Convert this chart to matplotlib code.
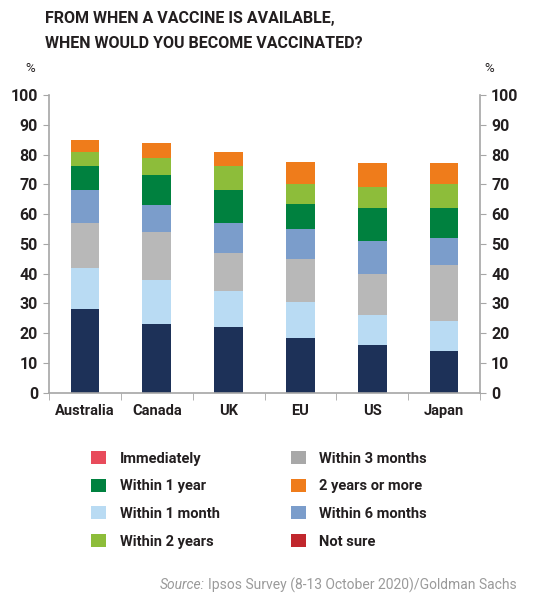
import matplotlib
matplotlib.use("Agg")
import matplotlib.pyplot as plt
from matplotlib.patches import Patch
import numpy as np

countries = ["Australia", "Canada", "UK", "EU", "US", "Japan"]
immediately = [28, 23, 22, 18.5, 16, 14]
within_1_month = [14, 15, 12, 12, 10, 10]
within_3_months = [15, 16, 13, 14.5, 14, 19]
within_6_months = [11, 9, 10, 10, 11, 9]
within_1_year = [8, 10, 11, 8.5, 11, 10]
within_2_years = [5, 6, 8, 6.5, 7, 8]
two_years_or_more = [4, 5, 5, 7.5, 8, 7]

y_ticks = [0, 10, 20, 30, 40, 50, 60, 70, 80, 90, 100]

series = [immediately, within_1_month, within_3_months, within_6_months,
          within_1_year, within_2_years, two_years_or_more]
bar_colors = ["#1d3158", "#b9dbf3", "#b8b8b8", "#7b9dcb", "#00813f", "#8dbd3a", "#ef7c1b"]

legend_labels = ["Immediately", "Within 1 year", "Within 1 month", "Within 2 years",
                 "Within 3 months", "2 years or more", "Within 6 months", "Not sure"]
legend_colors = ["#e84b5b", "#00813f", "#b9dbf3", "#8dbd3a",
                 "#a8a8a8", "#ef7c1b", "#7b9dcb", "#c1272d"]

cond = ["Roboto", "DejaVu Sans"]
dark = "#231f20"
axc = "#a6a6a6"

fig = plt.figure(figsize=(5.47, 6.0), dpi=100)
ax = fig.add_axes([0.0896, 0.3455, 0.7879, 0.4962])

x = np.arange(len(countries))
bottom = np.zeros(len(countries))
for vals, c in zip(series, bar_colors):
    ax.bar(x, vals, 0.4, bottom=bottom, color=c, edgecolor="none")
    bottom += np.array(vals)

ax.set_xlim(-0.5, len(countries) - 0.5)
ax.set_ylim(0, 100)
ax.set_yticks(y_ticks)
ax.set_yticklabels([str(t) for t in y_ticks], fontsize=11.5, fontweight="bold",
                   family=cond, color=dark)
ax.set_xticks(x)
ax.set_xticklabels(countries, fontsize=10.5, fontweight="bold", family=cond, color=dark)
ax.set_xticks(np.arange(len(countries) + 1) - 0.5, minor=True)
ax.tick_params(axis="x", which="major", length=0, pad=8)
ax.tick_params(axis="x", which="minor", length=5, color=axc, direction="out")
ax.tick_params(axis="y", which="major", left=True, right=True, labelleft=True,
               labelright=True, length=4, color=axc, direction="out", pad=4)
for s in ["left", "right", "bottom"]:
    ax.spines[s].set_color(axc)
    ax.spines[s].set_linewidth(1.2)
ax.spines["top"].set_visible(False)

fig.text(45 / 547, 1 - 19 / 600, "FROM WHEN A VACCINE IS AVAILABLE,", fontsize=11.5,
         fontweight="bold", family=cond, color=dark, va="center", ha="left")
fig.text(45 / 547, 1 - 43 / 600, "WHEN WOULD YOU BECOME VACCINATED?", fontsize=11.5,
         fontweight="bold", family=cond, color=dark, va="center", ha="left")
fig.text(30 / 547, 1 - 68 / 600, "%", fontsize=9.5, family=cond, color=dark,
         va="center", ha="center")
fig.text(489 / 547, 1 - 68 / 600, "%", fontsize=9.5, family=cond, color=dark,
         va="center", ha="center")

handles = [Patch(facecolor=c, edgecolor="none") for c in legend_colors]
leg = fig.legend(handles, legend_labels, ncol=2, loc="upper left",
                 bbox_to_anchor=(78 / 547, 1 - 438 / 600), frameon=False,
                 prop={"family": cond, "weight": "bold", "size": 10.5},
                 handlelength=1.0, handleheight=1.0, handletextpad=0.95,
                 columnspacing=4.9, labelspacing=0.9)
for t in leg.get_texts():
    t.set_color(dark)

src = fig.text(517 / 547, 1 - 585 / 600,
               "Ipsos Survey (8-13 October 2020)/Goldman Sachs",
               fontsize=10, color="#9a9a9a", ha="right", va="center", family=cond)
fig.canvas.draw()
bb = src.get_window_extent()
fig.text(bb.x0 / fig.bbox.width - 0.006, 1 - 585 / 600, "Source:", fontsize=10,
         color="#9a9a9a", ha="right", va="center", style="italic", family=cond)

fig.savefig("out.png", dpi=100)
